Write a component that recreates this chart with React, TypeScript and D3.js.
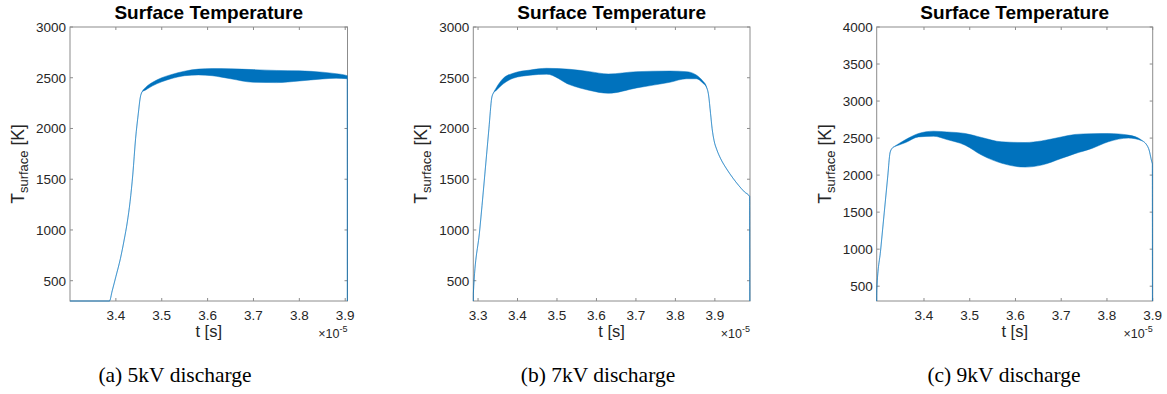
import React from "react";
import * as d3 from "d3";

// ---- Data (time in units of 1e-5 s, temperature in K) ----
// (a) 5kV discharge
const p1Time = [3.3, 3.386, 3.392, 3.4, 3.41, 3.418, 3.425, 3.431, 3.437, 3.443, 3.449, 3.453, 3.457, 3.465, 3.48, 3.5, 3.52, 3.55, 3.58, 3.61, 3.65, 3.7, 3.75, 3.8, 3.85, 3.88, 3.9045, 3.9046];
const p1Upper = [300, 300, 400, 540, 720, 900, 1080, 1280, 1550, 1900, 2150, 2300, 2360, 2405, 2455, 2500, 2530, 2565, 2585, 2590, 2588, 2580, 2572, 2568, 2555, 2540, 2520, 300];
const p1Lower = [300, 300, 400, 540, 720, 900, 1080, 1280, 1550, 1900, 2150, 2300, 2360, 2380, 2420, 2460, 2490, 2520, 2528, 2520, 2490, 2455, 2452, 2468, 2488, 2495, 2490, 300];

// (b) 7kV discharge
const p2Time = [3.288, 3.2882, 3.3043, 3.3276, 3.3346, 3.339, 3.346, 3.364, 3.389, 3.432, 3.474, 3.533, 3.583, 3.63, 3.702, 3.786, 3.828, 3.853, 3.87, 3.878, 3.884, 3.889, 3.893, 3.898, 3.905, 3.915, 3.93, 3.946, 3.96, 3.975, 3.988, 3.9885];
const p2Upper = [300, 380, 1000, 2000, 2300, 2350, 2400, 2495, 2544, 2576, 2593, 2583, 2560, 2537, 2560, 2566, 2560, 2527, 2465, 2420, 2330, 2150, 2000, 1880, 1790, 1700, 1600, 1510, 1440, 1375, 1330, 300];
const p2Lower = [300, 380, 1000, 2000, 2300, 2350, 2375, 2440, 2495, 2525, 2535, 2430, 2375, 2347, 2400, 2455, 2490, 2490, 2445, 2410, 2330, 2150, 2000, 1880, 1790, 1700, 1600, 1510, 1440, 1375, 1330, 300];

// (c) 9kV discharge
const p3Time = [3.2966, 3.2968, 3.3054, 3.3132, 3.321, 3.3257, 3.33, 3.336, 3.345, 3.36, 3.388, 3.421, 3.45, 3.49, 3.526, 3.57, 3.621, 3.657, 3.7, 3.73, 3.767, 3.803, 3.847, 3.876, 3.891, 3.898, 3.8993, 3.8994];
const p3Upper = [300, 450, 1000, 1500, 2000, 2300, 2360, 2390, 2425, 2480, 2562, 2593, 2583, 2562, 2508, 2449, 2440, 2462, 2515, 2549, 2560, 2562, 2540, 2472, 2360, 2180, 2150, 300];
const p3Lower = [300, 450, 1000, 1500, 2000, 2300, 2360, 2385, 2405, 2440, 2516, 2525, 2480, 2404, 2270, 2160, 2108, 2135, 2225, 2290, 2360, 2450, 2500, 2465, 2360, 2180, 2150, 300];

// ---- Axes ----
const p1XDomain = [3.3, 3.905];
const p2XDomain = [3.288, 3.989];
const p3XDomain = [3.2966, 3.9];
const p1YDomain = [300, 3000];
const p2YDomain = [300, 3000];
const p3YDomain = [300, 4000];
const p1XTicks = [3.4, 3.5, 3.6, 3.7, 3.8, 3.9];
const p2XTicks = [3.3, 3.4, 3.5, 3.6, 3.7, 3.8, 3.9];
const p3XTicks = [3.4, 3.5, 3.6, 3.7, 3.8, 3.9];
const yTicks3000 = [500, 1000, 1500, 2000, 2500, 3000];
const yTicks4000 = [500, 1000, 1500, 2000, 2500, 3000, 3500, 4000];

const titleText = "Surface Temperature";
const captions = ["(a) 5kV discharge", "(b) 7kV discharge", "(c) 9kV discharge"];

const BLUE = "#0072BD";
const SANS = "'Liberation Sans', Arial, Helvetica, sans-serif";
const SERIF = "'Liberation Serif', 'Times New Roman', serif";
const TOP = 27;
const BOTTOM = 301;

type PanelProps = {
  id: string;
  left: number;
  right: number;
  time: number[];
  upper: number[];
  lower: number[];
  xDomain: number[];
  yDomain: number[];
  xTicks: number[];
  yTicks: number[];
  caption: string;
  captionX: number;
};

function Panel(p: PanelProps) {
  const x = d3.scaleLinear().domain(p.xDomain).range([p.left, p.right]);
  const y = d3.scaleLinear().domain(p.yDomain).range([BOTTOM, TOP]);
  const idx = d3.range(p.time.length);
  const curve = d3.curveMonotoneX;
  const area = d3
    .area<number>()
    .curve(curve)
    .x((i) => x(p.time[i]))
    .y0((i) => y(p.lower[i]))
    .y1((i) => y(p.upper[i]))(idx) as string;
  const lineU = d3
    .line<number>()
    .curve(curve)
    .x((i) => x(p.time[i]))
    .y((i) => y(p.upper[i]))(idx) as string;
  const lineL = d3
    .line<number>()
    .curve(curve)
    .x((i) => x(p.time[i]))
    .y((i) => y(p.lower[i]))(idx) as string;
  const cx = (p.left + p.right) / 2;
  const cy = (TOP + BOTTOM) / 2;
  const tl = 3;
  const fmt = d3.format(".1f");
  const axisColor = "#8c8c8c";
  return (
    <g>
      <defs>
        <clipPath id={`clip-${p.id}`}>
          <rect x={p.left - 1} y={TOP - 1} width={p.right - p.left + 2} height={BOTTOM - TOP + 2} />
        </clipPath>
      </defs>
      <rect x={p.left} y={TOP} width={p.right - p.left} height={BOTTOM - TOP} fill="white" stroke={axisColor} strokeWidth={1} />
      {p.xTicks.map((t) => (
        <g key={`xt${t}`}>
          <line x1={x(t)} x2={x(t)} y1={BOTTOM} y2={BOTTOM - tl} stroke={axisColor} />
          <line x1={x(t)} x2={x(t)} y1={TOP} y2={TOP + tl} stroke={axisColor} />
          <text x={x(t)} y={BOTTOM + 19} textAnchor="middle" fontSize={13.5} fill="#262626" fontFamily={SANS}>
            {fmt(t)}
          </text>
        </g>
      ))}
      {p.yTicks.map((t) => (
        <g key={`yt${t}`}>
          <line x1={p.left} x2={p.left + tl} y1={y(t)} y2={y(t)} stroke={axisColor} />
          <line x1={p.right} x2={p.right - tl} y1={y(t)} y2={y(t)} stroke={axisColor} />
          <text x={p.left - 4} y={y(t)} dy="0.36em" textAnchor="end" fontSize={13.5} fill="#262626" fontFamily={SANS}>
            {t}
          </text>
        </g>
      ))}
      <g clipPath={`url(#clip-${p.id})`}>
        <path d={area} fill={BLUE} stroke="none" />
        <path d={lineU} fill="none" stroke={BLUE} strokeWidth={0.8} strokeOpacity={0.6} />
        <path d={lineL} fill="none" stroke={BLUE} strokeWidth={0.8} strokeOpacity={0.6} />
      </g>
      <text x={cx} y={19} textAnchor="middle" fontSize={19} fontWeight="bold" fill="#000" fontFamily={SANS}>
        {titleText}
      </text>
      <text x={cx} y={BOTTOM + 36} textAnchor="middle" fontSize={16.5} fill="#262626" fontFamily={SANS}>
        t [s]
      </text>
      <text x={p.right} y={BOTTOM + 37} textAnchor="end" fontSize={12.5} fill="#262626" fontFamily={SANS}>
        ×10
        <tspan dy={-6} fontSize={9}>
          -5
        </tspan>
      </text>
      <text transform={`translate(${p.left - 46},${cy}) rotate(-90)`} textAnchor="middle" fontSize={17.5} fill="#262626" fontFamily={SANS}>
        T
        <tspan fontSize={13} dy={4}>
          surface
        </tspan>
        <tspan dy={-4}> [K]</tspan>
      </text>
      <text x={p.captionX} y={382} textAnchor="middle" fontSize={21.5} fill="#000" fontFamily={SERIF}>
        {p.caption}
      </text>
    </g>
  );
}

export default function App() {
  return (
    <svg
      width={1167}
      height={394}
      viewBox="0 0 1167 394"
      style={{ position: "absolute", left: 0, top: 0, background: "white" }}
    >
      <rect x={0} y={0} width={1167} height={394} fill="white" />
      <Panel id="a" left={70} right={347.5} time={p1Time} upper={p1Upper} lower={p1Lower} xDomain={p1XDomain} yDomain={p1YDomain} xTicks={p1XTicks} yTicks={yTicks3000} caption={captions[0]} captionX={175} />
      <Panel id="b" left={473.3} right={750} time={p2Time} upper={p2Upper} lower={p2Lower} xDomain={p2XDomain} yDomain={p2YDomain} xTicks={p2XTicks} yTicks={yTicks3000} caption={captions[1]} captionX={598} />
      <Panel id="c" left={876.7} right={1152.7} time={p3Time} upper={p3Upper} lower={p3Lower} xDomain={p3XDomain} yDomain={p3YDomain} xTicks={p3XTicks} yTicks={yTicks4000} caption={captions[2]} captionX={1004} />
    </svg>
  );
}
